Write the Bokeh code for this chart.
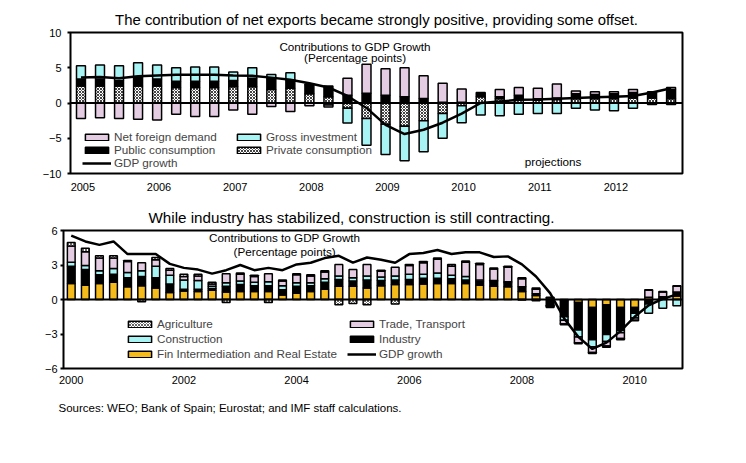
import numpy as np
from bokeh.plotting import figure
from bokeh.models import (ColumnDataSource, FixedTicker, Span, Legend, LegendItem,
                          Label, Title, Range1d)
from bokeh.embed import file_html
from bokeh.resources import INLINE

FONT = "Liberation Sans"

# ---------------- Top chart data (quarterly 2005Q1-2012Q4) ----------------
top_title = "The contribution of net exports became strongly positive, providing some offset."
top_years = ["2005", "2006", "2007", "2008", "2009", "2010", "2011", "2012"]
top_priv = [2.4, 2.4, 2.4, 2.4, 2.4, 2.2, 2.2, 2.2, 2.3, 2.3, 1.9, 2.1,
            1.3, 0.9, -0.75, -2.2, -3.0, -3.3, -2.5, -1.5, -0.4, 0.9, 0.6, 0.6,
            0.4, 0.5, 0.6, 0.6, 0.6, 0.7, 0.7, 0.6]
top_pub = [1.0, 1.0, 0.8, 1.3, 1.0, 0.9, 0.9, 0.9, 0.9, 1.2, 1.55, 1.2,
           1.3, 1.5, 1.1, 1.4, 1.1, 0.9, 0.65, 0.1, 0.1, 0.6, 0.3, 0.5,
           0.2, 0.2, 0.7, 0.6, 0.7, 0.8, 0.6, 1.3]
top_inv = [1.9, 2.0, 2.1, 2.0, 2.0, 1.9, 2.0, 2.0, 1.2, 1.5, 0.6, 1.0,
           0.1, -0.3, -2.1, -3.8, -4.3, -4.9, -4.4, -3.5, -2.4, -1.7, -1.8, -1.6,
           -1.5, -1.5, -0.75, -1.0, -1.1, -0.75, -0.2, -0.2]
top_nfd = [-2.2, -2.1, -2.2, -2.3, -2.4, -1.6, -1.9, -1.9, -1.0, -1.6, -0.5, -1.2,
           -0.4, -0.25, 2.4, 4.1, 3.75, 4.1, 3.2, 2.7, 1.9, 0.0, 1.0, 1.1,
           1.5, 2.0, 0.4, 0.4, 0.3, 0.4, 0.3, 0.3]
top_gdp = [3.6, 3.7, 3.5, 3.8, 3.9, 4.0, 4.0, 4.0, 3.9, 3.85, 3.6, 3.3,
           2.8, 2.2, 1.0, -0.7, -3.1, -4.4, -3.8, -2.8, -1.5, 0.0, 0.2, 0.45,
           0.5, 0.6, 0.7, 0.8, 0.9, 1.0, 1.5, 2.1]
top_yticks = [-10, -5, 0, 5, 10]

# ---------------- Bottom chart data (quarterly 2000Q1-2010Q4) ----------------
bot_title = "While industry has stabilized, construction is still contracting."
source_note = "Sources: WEO; Bank of Spain; Eurostat; and IMF staff calculations."
bot_years = ["2000", "2002", "2004", "2006", "2008", "2010"]
bot_agri = [0.3, 0.3, 0.2, 0.2, 0.1, -0.2, 0.2, 0.15, 0.2, 0.15, 0.15, -0.25,
            0.1, 0.1, -0.25, 0.1, 0.1, 0.1, 0.1, -0.45, -0.35, -0.45, 0.1, -0.4,
            0.1, 0.1, 0.1, 0.15, 0.1, 0.1, 0.1, 0.1, 0.1, 0.1, -0.1, -0.1,
            -0.1, -0.1, -0.1, -0.1, -0.05, 0.05, 0.05, 0.05]
bot_trade = [1.4, 1.2, 1.1, 0.9, 0.95, 0.7, 0.55, 0.45, 0.3, 0.4, 0.2, 0.8,
             0.6, 0.5, 0.7, 0.4, 0.7, 0.6, 0.6, 1.0, 0.7, 1.0, 0.5, 0.75,
             0.75, 1.0, 1.2, 0.8, 1.25, 1.35, 1.0, 1.25, 0.7, 0.4, 0.05, -0.3,
             -0.5, -0.5, -0.4, -0.5, -0.2, 0.6, 0.4, 0.5]
bot_const = [0.35, 0.35, 0.35, 0.5, 0.45, 0.5, 1.0, 0.75, 0.8, 0.75, 0.2, 0.3,
             0.3, 0.3, 0.35, 0.35, 0.3, 0.25, 0.3, 0.3, 0.3, 0.35, 0.3, 0.35,
             0.45, 0.35, 0.45, 0.3, 0.3, 0.15, 0.1, 0.1, -0.05, -0.1, -0.1, -0.3,
             -0.6, -0.6, -0.6, -0.2, -0.4, -0.8, -0.75, -0.55]
bot_ind = [1.5, 1.35, 0.75, 0.7, 0.8, 0.8, 0.9, 0.75, 0.15, 0.2, 0.15, 0.5,
           0.6, 0.5, 0.5, 0.45, 0.6, 0.5, 0.6, 0.6, 0.45, 0.7, 0.45, 0.4,
           0.45, 0.5, 0.45, 0.4, 0.3, 0.3, 0.4, 0.35, 0.4, 0.15, -0.5, -1.4,
           -2.4, -2.8, -2.6, -2.0, -0.5, -0.4, 0.15, 0.35]
bot_fin = [1.4, 1.25, 1.4, 1.5, 1.1, 1.2, 1.0, 0.6, 0.75, 0.7, 0.8, 0.65,
           0.7, 0.7, 0.7, 0.4, 0.55, 0.7, 0.9, 1.15, 1.15, 1.0, 1.2, 1.3,
           1.3, 1.35, 1.4, 1.4, 1.4, 1.25, 1.15, 1.1, 0.7, 0.35, 0.15, -0.1,
           -0.25, -0.7, -0.45, -0.7, -0.7, 0.2, 0.1, 0.3]
bot_gdp = [5.55, 5.05, 4.75, 5.05, 3.95, 3.95, 3.95, 3.1, 2.75, 2.6, 2.25, 2.55,
           3.0, 2.55, 2.75, 2.55, 3.05, 3.2, 3.6, 3.8, 3.2, 3.65, 3.45, 3.2,
           3.95, 4.05, 4.3, 3.95, 4.1, 4.1, 3.7, 3.75, 3.05, 2.0, 0.55, -1.65,
           -3.25, -4.3, -3.75, -2.75, -1.5, -0.5, 0.05, 0.45]
bot_yticks = [-6, -3, 0, 3, 6]

PINK = "#E4CDE2"
CYAN = "#A8F4F4"
YELLOW = "#F5BB1C"
CHECK_BG = "#FFFFFF"

SMALL = "11.7px"


def stacked(series_list):
    n = len(series_list[0])
    pos = np.zeros(n)
    neg = np.zeros(n)
    out = []
    for s in series_list:
        s = np.asarray(s, dtype=float)
        bottom = np.where(s >= 0, pos, neg)
        top = bottom + s
        pos = np.where(s >= 0, pos + s, pos)
        neg = np.where(s < 0, neg + s, neg)
        keep = s != 0
        out.append(dict(x=np.arange(n)[keep], bottom=bottom[keep], top=top[keep]))
    return out


def style(p, yticks, label_positions, labels, y_standoff, x_standoff):
    p.outline_line_color = "black"
    p.outline_line_width = 2
    p.xgrid.visible = False
    p.ygrid.visible = False
    p.yaxis.ticker = FixedTicker(ticks=yticks)
    p.xaxis.ticker = FixedTicker(ticks=label_positions)
    p.xaxis.major_label_overrides = {k: v for k, v in zip(label_positions, labels)}
    for ax in (p.xaxis, p.yaxis):
        ax.axis_line_color = None
        ax.minor_tick_line_color = None
        ax.major_label_text_font = FONT
        ax.major_label_text_font_size = "11px"
        ax.major_label_text_color = "black"
    p.xaxis.major_tick_line_color = None
    p.xaxis.major_label_standoff = x_standoff
    p.yaxis.major_tick_in = 0
    p.yaxis.major_tick_out = 3
    p.yaxis.major_tick_line_width = 2
    p.yaxis.major_label_standoff = y_standoff
    p.add_layout(Span(location=0, dimension="width", line_color="black", line_width=2))


def set_title(p, size, align, offset, standoff):
    t = p.title
    t.text_font = FONT
    t.text_font_size = size
    t.text_font_style = "normal"
    t.text_color = "black"
    t.align = align
    t.offset = offset
    t.vertical_align = "top"
    t.standoff = standoff


def text(p, x, y, s):
    p.add_layout(Label(x=x, y=y, text=s, text_align="center", text_baseline="middle",
                       text_font=FONT, text_font_size=SMALL, text_color="black"))


def leg(items, x, y, spacing):
    lg = Legend(items=items, location=(x, y), orientation="vertical",
                glyph_width=29, glyph_height=8, label_standoff=3,
                label_text_font=FONT, label_text_font_size=SMALL,
                label_height=spacing, spacing=0, padding=0, margin=0,
                border_line_color=None, background_fill_alpha=0)
    return lg


# ---------------- Top figure ----------------
p1 = figure(width=738, height=200, output_backend="svg", toolbar_location=None,
            x_range=Range1d(-0.55, 31.6), y_range=Range1d(-10, 10),
            min_border_left=70, min_border_right=56, min_border_top=32,
            min_border_bottom=27, title=top_title)
style(p1, top_yticks, [4 * i + 0.1 for i in range(len(top_years))], top_years, 6, 3)
set_title(p1, "14.9px", "center", 0, 6)

top_specs = [
    (top_priv, dict(fill_color=CHECK_BG, hatch_pattern="diagonal_cross", hatch_color="#444444",
                    hatch_scale=3, hatch_weight=1)),
    (top_pub, dict(fill_color="black")),
    (top_inv, dict(fill_color=CYAN)),
    (top_nfd, dict(fill_color=PINK)),
]
top_r = []
for (vals, st), d in zip(top_specs, stacked([s for s, _ in top_specs])):
    r = p1.vbar(x="x", bottom="bottom", top="top", width=0.47, source=ColumnDataSource(d),
                line_color="black", line_width=1.5, **st)
    top_r.append(r)
gl1 = p1.line(x=list(range(len(top_gdp))), y=top_gdp, line_color="black", line_width=2.5)

p1.add_layout(leg([LegendItem(label="Net foreign demand", renderers=[top_r[3]]),
                   LegendItem(label="Public consumption", renderers=[top_r[1]]),
                   LegendItem(label="GDP growth", renderers=[gl1])], 12, 4, 13))
p1.add_layout(leg([LegendItem(label="Gross investment", renderers=[top_r[2]]),
                   LegendItem(label="Private consumption", renderers=[top_r[0]])], 164, 17, 13))

text(p1, 14.4, 7.95, "Contributions to GDP Growth")
text(p1, 14.4, 6.4, "(Percentage points)")
text(p1, 24.8, -8.3, "projections")

# ---------------- Bottom figure ----------------
p2 = figure(width=738, height=255, output_backend="svg", toolbar_location=None,
            x_range=Range1d(-0.55, 43.4), y_range=Range1d(-6, 6),
            min_border_left=63, min_border_right=56, min_border_top=30,
            min_border_bottom=87, title=bot_title)
style(p2, bot_yticks, [8 * i for i in range(len(bot_years))], bot_years, 3, 1)
set_title(p2, "15.2px", "left", 85, 6)

bot_specs = [
    (bot_fin, dict(fill_color=YELLOW)),
    (bot_ind, dict(fill_color="black")),
    (bot_const, dict(fill_color=CYAN)),
    (bot_trade, dict(fill_color=PINK)),
    (bot_agri, dict(fill_color=CHECK_BG, hatch_pattern="diagonal_cross", hatch_color="#666666",
                    hatch_scale=3, hatch_weight=1)),
]
bot_r = []
for (vals, st), d in zip(bot_specs, stacked([s for s, _ in bot_specs])):
    r = p2.vbar(x="x", bottom="bottom", top="top", width=0.55, source=ColumnDataSource(d),
                line_color="black", line_width=1.5, **st)
    bot_r.append(r)
gl2 = p2.line(x=list(range(len(bot_gdp))), y=bot_gdp, line_color="black", line_width=2.5)

p2.add_layout(leg([LegendItem(label="Agriculture", renderers=[bot_r[4]]),
                   LegendItem(label="Construction", renderers=[bot_r[2]]),
                   LegendItem(label="Fin Intermediation and Real Estate", renderers=[bot_r[0]])],
                  62, 7, 15))
p2.add_layout(leg([LegendItem(label="Trade, Transport", renderers=[bot_r[3]]),
                   LegendItem(label="Industry", renderers=[bot_r[1]]),
                   LegendItem(label="GDP growth", renderers=[gl2])], 284, 7, 15))

text(p2, 15.15, 5.35, "Contributions to GDP Growth")
text(p2, 15.15, 4.2, "(Percentage points)")

p2.add_layout(Title(text=source_note, align="left", text_font=FONT, text_font_size="11.5px",
                    text_font_style="normal", text_color="black", offset=-5,
                    standoff=27), "below")

open("out.html", "w").write(file_html([p1, p2], INLINE))
